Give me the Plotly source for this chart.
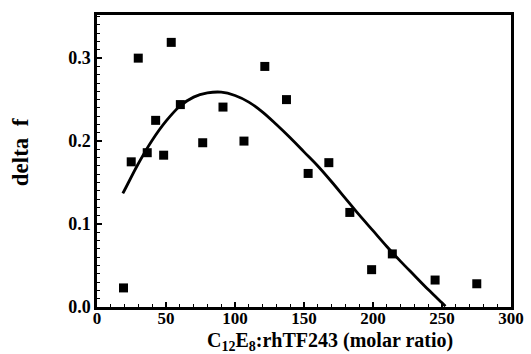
import plotly.graph_objects as go

# Measured data points (C12E8:rhTF243 molar ratio vs delta f)
ratio = [19.2, 24.8, 29.9, 36.4, 42.5, 48.3, 53.8, 60.4, 76.6, 91.3,
         106.5, 121.6, 137.3, 153.0, 168.0, 183.2, 199.0, 214.0, 245.0, 275.2]
delta_f = [0.023, 0.175, 0.300, 0.186, 0.225, 0.183, 0.319, 0.244, 0.198, 0.241,
           0.200, 0.290, 0.250, 0.161, 0.174, 0.114, 0.045, 0.064, 0.0325, 0.028]

# Fitted curve
fit_x = [18.7, 20, 30, 40, 50, 60, 70, 80, 90, 100, 110, 120, 130, 140,
         150, 160, 170, 180, 190, 200, 210, 220, 230, 240, 250, 252.5]
fit_y = [0.137, 0.141, 0.173, 0.201, 0.224, 0.242, 0.253, 0.258, 0.259, 0.255,
         0.247, 0.235, 0.220, 0.204, 0.187, 0.170, 0.151, 0.131, 0.111, 0.092,
         0.073, 0.055, 0.038, 0.021, 0.005, 0.001]

x_ticks = [0, 50, 100, 150, 200, 250, 300]
x_tick_labels = ["0", "50", "100", "150", "200", "250", "300"]
y_ticks = [0.0, 0.1, 0.2, 0.3]
y_tick_labels = ["0.0", "0.1", "0.2", "0.3"]

x_title = "C<sub>12</sub>E<sub>8</sub>:rhTF243 (molar ratio)"
y_title = "delta\u00a0\u00a0f"

FONT = "Liberation Serif, Times New Roman, serif"

fig = go.Figure()
fig.add_trace(go.Scatter(
    x=fit_x, y=fit_y, mode="lines",
    line=dict(color="black", width=2.8, shape="spline", smoothing=1.0),
    hoverinfo="skip", showlegend=False,
))
fig.add_trace(go.Scatter(
    x=ratio, y=delta_f, mode="markers",
    marker=dict(symbol="square", size=9, color="black"),
    showlegend=False,
))

fig.update_layout(
    width=531, height=354,
    margin=dict(l=97, r=20, t=15, b=47),
    paper_bgcolor="white", plot_bgcolor="white",
    font=dict(family=FONT, color="black"),
)
fig.update_xaxes(
    range=[0, 300], tickvals=x_ticks, automargin=False,
    ticktext=["<b>%s</b>" % t for t in x_tick_labels],
    ticklabelstandoff=-6,
    showgrid=False, zeroline=False,
    showline=True, linecolor="black", linewidth=2.5, mirror=True,
    ticks="inside", ticklen=5, tickwidth=1.5, tickcolor="black",
    minor=dict(dtick=10, ticks="inside", ticklen=3, tickwidth=1.2, tickcolor="black"),
    tickfont=dict(family=FONT, size=17, color="black"),
)
fig.update_yaxes(
    range=[0, 0.352], tickvals=y_ticks, automargin=False,
    ticktext=["<b>%s</b>" % t for t in y_tick_labels],
    showgrid=False, zeroline=False,
    showline=True, linecolor="black", linewidth=2.5, mirror=True,
    ticks="inside", ticklen=5, tickwidth=1.5, tickcolor="black",
    minor=dict(dtick=0.01, ticks="inside", ticklen=3, tickwidth=1, tickcolor="black"),
    tickfont=dict(family=FONT, size=18, color="black"),
)

# Axis titles placed as annotations to match the reference's offsets
fig.add_annotation(
    text="<b>%s</b>" % x_title, xref="paper", yref="paper",
    x=0.562, y=-0.166, xanchor="center", yanchor="bottom", showarrow=False,
    borderpad=0, font=dict(family=FONT, size=20, color="black"),
)
fig.add_annotation(
    text="<b>%s</b>" % y_title, xref="paper", yref="paper",
    x=-0.183, y=0.531, xanchor="center", yanchor="middle", textangle=-90,
    showarrow=False, font=dict(family=FONT, size=23, color="black"),
)

fig.write_html("out.html")
